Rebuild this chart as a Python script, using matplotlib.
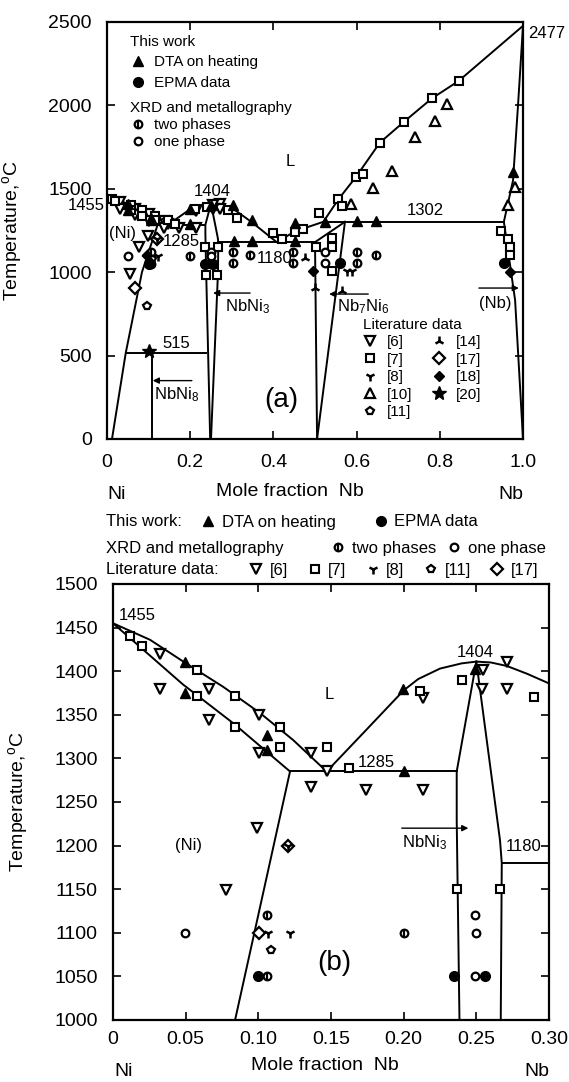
import numpy as np
import matplotlib.pyplot as plt
from matplotlib.lines import Line2D

plt.rcParams['font.family'] = ['Liberation Sans', 'DejaVu Sans']
plt.rcParams['mathtext.fontset'] = 'custom'
plt.rcParams['mathtext.rm'] = 'Liberation Sans'
plt.rcParams['mathtext.it'] = 'Liberation Sans:italic'

# ---- phase boundaries (mole fraction Nb, temperature in C) ----
T_EUT_NI = 1285
T_EUT_NB = 1180
T_PERI = 1302
T_NBNI8 = 515

liq_x = [0, 0.0255, 0.0484, 0.0759, 0.1012, 0.124, 0.147, 0.175, 0.2, 0.21, 0.225, 0.24,
         0.25, 0.26, 0.271, 0.285, 0.30, 0.348, 0.408, 0.452, 0.52, 0.556, 0.599, 0.656,
         0.714, 0.781, 0.845, 1.0]
liq_T = [1455, 1436, 1411, 1382, 1352, 1321, 1285, 1334, 1378, 1391, 1403, 1409,
         1411, 1410, 1406, 1397, 1386, 1300, 1180, 1245, 1302, 1436, 1573, 1777,
         1902, 2042, 2146, 2477]

sol_ni_x = [0, 0.048, 0.083, 0.1218]
sol_ni_T = [1455, 1385, 1340, 1285]

solvus_ni_x = [0.1218, 0.084, 0.045, 0.012]
solvus_ni_T = [1285, 1000, 515, 0]

nbni3_left_x = [0.25, 0.2365, 0.2365, 0.2384, 0.248]
nbni3_left_T = [1411, 1285, 1229, 1000, 0]
nbni3_right_x = [0.25, 0.2663, 0.2675, 0.2668, 0.264, 0.25]
nbni3_right_T = [1411, 1206, 1180, 1000, 833, 0]

nb7ni6_left_x = [0.505, 0.5, 0.572]
nb7ni6_left_T = [0, 1180, 1302]
nb7ni6_right_x = [0.572, 0.505]
nb7ni6_right_T = [1302, 0]

solvus_nb_x = [1.0, 0.988, 0.976, 0.954, 0.981, 1.0]
solvus_nb_T = [2477, 2000, 1550, 1302, 833, 0]

eut_ni_x = [0.1218, 0.2365]
eut_nb_x = [0.2675, 0.5]
peri_x = [0.52, 0.954]
nbni8_x = [0.045, 0.2384]
nbni8_comp = 0.107

# ---- experimental points (shared by both panels) ----
dta_x = [0.0496, 0.0496, 0.1058, 0.1058, 0.1998, 0.2003, 0.249]
dta_T = [1410, 1375, 1327, 1310, 1380, 1286, 1403]
epma_x = [0.100, 0.2347, 0.256]
epma_T = [1050, 1050, 1050]
two_x = [0.1058, 0.1058, 0.2003]
two_T = [1120, 1050, 1100]
one_x = [0.0496, 0.249, 0.2498, 0.249]
one_T = [1100, 1120, 1100, 1050]
r6_x = [0.0323, 0.0323, 0.0663, 0.0663, 0.1007, 0.1007, 0.136, 0.1475, 0.136, 0.0993,
        0.0778, 0.2136, 0.1741, 0.2131, 0.271, 0.271, 0.2537, 0.2544]
r6_T = [1420, 1380, 1380, 1344, 1350, 1306, 1306, 1286, 1267, 1220,
        1149, 1369, 1264, 1264, 1410, 1380, 1380, 1401]
r7_x = [0.0117, 0.0197, 0.0576, 0.0576, 0.084, 0.084, 0.115, 0.115, 0.1475, 0.1626,
        0.2113, 0.24, 0.2898, 0.2365, 0.2663]
r7_T = [1440, 1429, 1401, 1372, 1372, 1336, 1336, 1313, 1313, 1289,
        1377, 1390, 1370, 1150, 1150]
r8_x = [0.1069, 0.1218, 0.1207]
r8_T = [1100, 1100, 1200]
r11_x = [0.1085]
r11_T = [1080]
r17_x = [0.1007, 0.1207]
r17_T = [1100, 1200]

# ---- points only visible in the full diagram ----
dta_top_x = [0.304, 0.348, 0.305, 0.348, 0.452, 0.452, 0.524, 0.602, 0.647, 0.977]
dta_top_T = [1400, 1313, 1190, 1190, 1190, 1293, 1302, 1309, 1309, 1603]
epma_top_x = [0.56, 0.954]
epma_top_T = [1053, 1053]
two_top_x = [0.303, 0.303, 0.344, 0.448, 0.448, 0.602, 0.602, 0.647]
two_top_T = [1123, 1053, 1103, 1123, 1053, 1123, 1053, 1103]
one_top_x = [0.524, 0.524]
one_top_T = [1123, 1053]
r6_top_x = [0.055]
r6_top_T = [990]
r7_top_x = [0.237, 0.265, 0.312, 0.40, 0.42, 0.452, 0.471, 0.502, 0.51, 0.54, 0.54, 0.54,
            0.556, 0.564, 0.599, 0.615, 0.656, 0.714, 0.781, 0.845, 0.946, 0.965, 0.969, 0.969]
r7_top_T = [985, 985, 1323, 1233, 1197, 1243, 1257, 1153, 1353, 1203, 1153, 1009,
            1439, 1397, 1573, 1589, 1777, 1902, 2042, 2146, 1249, 1197, 1153, 1103]
r8_top_x = [0.576, 0.59]
r8_top_T = [1009, 1009]
r10_x = [0.586, 0.639, 0.686, 0.74, 0.789, 0.817, 0.965, 0.981]
r10_T = [1409, 1506, 1609, 1813, 1908, 2008, 1403, 1511]
r11_top_x = [0.095]
r11_top_T = [797]
r14_x = [0.476, 0.5, 0.564]
r14_T = [1083, 903, 885]
r17_top_x = [0.067]
r17_top_T = [903]
r18_x = [0.095, 0.103, 0.496, 0.969]
r18_T = [1103, 1063, 1009, 1003]
r20_x = [0.1]
r20_T = [530]

STYLE = {
    'dta': dict(marker='^', ms=7, mfc='k', mec='k', mew=1),
    'epma': dict(marker='o', ms=7, mfc='k', mec='k', mew=1),
    'one': dict(marker='o', ms=5.5, mfc='white', mec='k', mew=1.6),
    'r6': dict(marker='v', ms=6.5, mfc='white', mec='k', mew=1.6),
    'r7': dict(marker='s', ms=6, mfc='white', mec='k', mew=1.5),
    'r8': dict(marker='1', ms=7, mec='k', mew=1.8),
    'r10': dict(marker='^', ms=6.5, mfc='white', mec='k', mew=1.6),
    'r11': dict(marker='p', ms=6, mfc='white', mec='k', mew=1.6),
    'r14': dict(marker='2', ms=7, mec='k', mew=1.8),
    'r17': dict(marker='D', ms=6, mfc='white', mec='k', mew=1.6),
    'r18': dict(marker='D', ms=5, mfc='k', mec='k', mew=1),
    'r20': dict(marker='*', ms=10, mfc='k', mec='k', mew=1),
}


def two_handle():
    return (Line2D([], [], ls='none', marker='o', ms=5.5, mfc='white', mec='k', mew=1.6),
            Line2D([], [], ls='none', marker='|', ms=5.5, mec='k', mew=1.6))


def pts(ax, kind, xs, ts):
    if kind == 'two':
        ax.plot(xs, ts, ls='none', marker='o', ms=5.5, mfc='white', mec='k', mew=1.6, zorder=5)
        ax.plot(xs, ts, ls='none', marker='|', ms=5.5, mec='k', mew=1.6, zorder=6)
    else:
        ax.plot(xs, ts, ls='none', zorder=5, **STYLE[kind])


def handle(kind):
    if kind == 'two':
        return two_handle()
    return Line2D([], [], ls='none', **STYLE[kind])


def boundaries(ax):
    lw = 1.4
    ax.plot(liq_x, liq_T, 'k-', lw=lw)
    ax.plot(sol_ni_x, sol_ni_T, 'k-', lw=lw)
    ax.plot(solvus_ni_x, solvus_ni_T, 'k-', lw=lw)
    ax.plot(nbni3_left_x, nbni3_left_T, 'k-', lw=lw)
    ax.plot(nbni3_right_x, nbni3_right_T, 'k-', lw=lw)
    ax.plot(nb7ni6_left_x, nb7ni6_left_T, 'k-', lw=lw)
    ax.plot(nb7ni6_right_x, nb7ni6_right_T, 'k-', lw=lw)
    ax.plot(solvus_nb_x, solvus_nb_T, 'k-', lw=lw)
    ax.plot(eut_ni_x, [T_EUT_NI] * 2, 'k-', lw=lw)
    ax.plot(eut_nb_x, [T_EUT_NB] * 2, 'k-', lw=lw)
    ax.plot(peri_x, [T_PERI] * 2, 'k-', lw=lw)
    ax.plot(nbni8_x, [T_NBNI8] * 2, 'k-', lw=lw)
    ax.plot([nbni8_comp] * 2, [0, T_NBNI8], 'k-', lw=lw)


def shared_points(ax):
    pts(ax, 'r6', r6_x, r6_T)
    pts(ax, 'r7', r7_x, r7_T)
    pts(ax, 'r17', r17_x, r17_T)
    pts(ax, 'r8', r8_x, r8_T)
    pts(ax, 'r11', r11_x, r11_T)
    pts(ax, 'one', one_x, one_T)
    pts(ax, 'two', two_x, two_T)
    pts(ax, 'epma', epma_x, epma_T)
    pts(ax, 'dta', dta_x, dta_T)


def style_axes(ax, lw=1.6):
    for s in ax.spines.values():
        s.set_linewidth(lw)
    ax.tick_params(direction='in', top=True, right=True, length=6, width=1.2,
                   labelsize=14)


arrow = dict(arrowstyle='-|>', lw=1.0, color='k', mutation_scale=9, shrinkA=0, shrinkB=0)

fig = plt.figure(figsize=(5.69, 10.82), dpi=100)

# ================= (a) full diagram =================
ax1 = fig.add_axes([107 / 569, 1 - 439 / 1082, 416 / 569, 417 / 1082])
boundaries(ax1)
shared_points(ax1)
pts(ax1, 'r6', r6_top_x, r6_top_T)
pts(ax1, 'r7', r7_top_x, r7_top_T)
pts(ax1, 'r8', r8_top_x, r8_top_T)
pts(ax1, 'r10', r10_x, r10_T)
pts(ax1, 'r11', r11_top_x, r11_top_T)
pts(ax1, 'r14', r14_x, r14_T)
pts(ax1, 'r17', r17_top_x, r17_top_T)
pts(ax1, 'r18', r18_x, r18_T)
pts(ax1, 'r20', r20_x, r20_T)
pts(ax1, 'one', one_top_x, one_top_T)
pts(ax1, 'two', two_top_x, two_top_T)
pts(ax1, 'epma', epma_top_x, epma_top_T)
pts(ax1, 'dta', dta_top_x, dta_top_T)

ax1.set_xlim(0, 1.0)
ax1.set_ylim(0, 2500)
ax1.set_xticks([0, 0.2, 0.4, 0.6, 0.8, 1.0])
ax1.set_xticklabels(['0', '0.2', '0.4', '0.6', '0.8', '1.0'])
ax1.set_yticks(np.arange(0, 2501, 500))
style_axes(ax1)
ax1.tick_params(axis='x', pad=11)
ax1.tick_params(axis='y', pad=11)
ax1.set_ylabel('Temperature,$^{\\rm o}$C', fontsize=14)
ax1.yaxis.set_label_coords(-0.2, 0.5)
ax1.set_xlabel('Mole fraction  Nb', fontsize=14)
ax1.xaxis.set_label_coords(0.44, -0.105)
ax1.text(0.024, -0.132, 'Ni', transform=ax1.transAxes, ha='center', va='center', fontsize=14)
ax1.text(0.97, -0.132, 'Nb', transform=ax1.transAxes, ha='center', va='center', fontsize=14)

fs = 12
ax1.text(-0.005, 1400, '1455', ha='right', va='center', fontsize=fs, clip_on=False)
ax1.text(0.252, 1483, '1404', ha='center', va='center', fontsize=fs)
ax1.text(0.038, 1233, '(Ni)', ha='center', va='center', fontsize=fs)
ax1.text(0.178, 1183, '1285', ha='center', va='center', fontsize=fs)
ax1.text(0.404, 1083, '1180', ha='center', va='center', fontsize=fs)
ax1.text(0.766, 1369, '1302', ha='center', va='center', fontsize=fs)
ax1.text(1.012, 2432, '2477', ha='left', va='center', fontsize=fs, clip_on=False)
ax1.text(0.44, 1663, 'L', ha='center', va='center', fontsize=fs)
ax1.text(0.167, 575, '515', ha='center', va='center', fontsize=fs)
ax1.text(0.114, 268, 'NbNi$_8$', ha='left', va='center', fontsize=fs)
ax1.annotate('', xy=(0.11, 350), xytext=(0.204, 350), arrowprops=arrow)
ax1.text(0.284, 793, 'NbNi$_3$', ha='left', va='center', fontsize=fs)
ax1.annotate('', xy=(0.255, 875), xytext=(0.344, 875), arrowprops=arrow)
ax1.text(0.553, 793, 'Nb$_7$Ni$_6$', ha='left', va='center', fontsize=fs)
ax1.annotate('', xy=(0.534, 869), xytext=(0.628, 869), arrowprops=arrow)
ax1.text(0.933, 815, '(Nb)', ha='center', va='center', fontsize=fs)
ax1.annotate('', xy=(0.99, 905), xytext=(0.894, 905), arrowprops=arrow)
ax1.text(0.42, 234, '(a)', ha='center', va='center', fontsize=20)

lkw = dict(frameon=False, fontsize=11, title_fontsize=11, alignment='left',
           handlelength=1.0, handletextpad=0.6, borderpad=0, borderaxespad=0,
           labelspacing=0.45, numpoints=1)
leg1 = ax1.legend([handle('dta'), handle('epma')], ['DTA on heating', 'EPMA data'],
                  title='This work', loc='upper left', bbox_to_anchor=(0.055, 0.97), **lkw)
ax1.add_artist(leg1)
leg2 = ax1.legend([handle('two'), handle('one')], ['two phases', 'one phase'],
                  title='XRD and metallography', loc='upper left',
                  bbox_to_anchor=(0.055, 0.81), **dict(lkw, labelspacing=0.2))
ax1.add_artist(leg2)
lit_kinds = ['r6', 'r7', 'r8', 'r10', 'r11', 'r14', 'r17', 'r18', 'r20']
lit_labels = ['[6]', '[7]', '[8]', '[10]', '[11]', '[14]', '[17]', '[18]', '[20]']
ax1.legend([handle(k) for k in lit_kinds], lit_labels, title='Literature data', ncol=2,
           loc='upper left', bbox_to_anchor=(0.615, 0.29), columnspacing=1.2,
           **dict(lkw, labelspacing=0.22))

# ================= legend rows between panels =================
row_fs = 12
rkw = dict(frameon=False, fontsize=row_fs, handlelength=1.0, handletextpad=0.3,
           borderpad=0, borderaxespad=0, numpoints=1, loc='center left')
fig.text(106 / 569, 1 - 522 / 1082, 'This work:', fontsize=row_fs, va='center')
fig.legend([handle('dta'), handle('epma')], ['DTA on heating', 'EPMA data'], ncol=2,
           bbox_to_anchor=(200 / 569, 1 - 522 / 1082), columnspacing=2.2, **rkw)
fig.text(106 / 569, 1 - 548 / 1082, 'XRD and metallography', fontsize=row_fs, va='center')
fig.legend([handle('two'), handle('one')], ['two phases', 'one phase'], ncol=2,
           bbox_to_anchor=(330 / 569, 1 - 548 / 1082), columnspacing=0.6, **rkw)
fig.text(106 / 569, 1 - 570 / 1082, 'Literature data:', fontsize=row_fs, va='center')
fig.legend([handle(k) for k in ['r6', 'r7', 'r8', 'r11', 'r17']],
           ['[6]', '[7]', '[8]', '[11]', '[17]'], ncol=5,
           bbox_to_anchor=(248 / 569, 1 - 570 / 1082), columnspacing=1.1, **rkw)

# ================= (b) Ni-rich part =================
ax2 = fig.add_axes([113 / 569, 1 - 1020 / 1082, 436 / 569, 436 / 1082])
boundaries(ax2)
shared_points(ax2)
ax2.set_xlim(0, 0.30)
ax2.set_ylim(1000, 1500)
ax2.set_xticks(np.arange(0, 0.301, 0.05))
ax2.set_xticklabels(['0', '0.05', '0.10', '0.15', '0.20', '0.25', '0.30'])
ax2.set_yticks(np.arange(1000, 1501, 50))
style_axes(ax2)
ax2.tick_params(axis='x', pad=8)
ax2.tick_params(axis='y', pad=11)
ax2.set_ylabel('Temperature,$^{\\rm o}$C', fontsize=14)
ax2.yaxis.set_label_coords(-0.19, 0.5)
ax2.set_xlabel('Mole fraction  Nb', fontsize=14)
ax2.xaxis.set_label_coords(0.486, -0.085)
ax2.text(0.024, -0.119, 'Ni', transform=ax2.transAxes, ha='center', va='center', fontsize=14)
ax2.text(0.972, -0.119, 'Nb', transform=ax2.transAxes, ha='center', va='center', fontsize=14)

ax2.text(0.004, 1464, '1455', ha='left', va='center', fontsize=fs)
ax2.text(0.249, 1422, '1404', ha='center', va='center', fontsize=fs)
ax2.text(0.149, 1373, 'L', ha='center', va='center', fontsize=fs)
ax2.text(0.1815, 1295, '1285', ha='center', va='center', fontsize=fs)
ax2.text(0.052, 1200, '(Ni)', ha='center', va='center', fontsize=fs)
ax2.text(0.199, 1203, 'NbNi$_3$', ha='left', va='center', fontsize=fs)
ax2.annotate('', xy=(0.2445, 1220), xytext=(0.1987, 1220), arrowprops=arrow)
ax2.text(0.2824, 1199, '1180', ha='center', va='center', fontsize=fs)
ax2.text(0.152, 1065, '(b)', ha='center', va='center', fontsize=20)

fig.savefig('out.png', dpi=100)
